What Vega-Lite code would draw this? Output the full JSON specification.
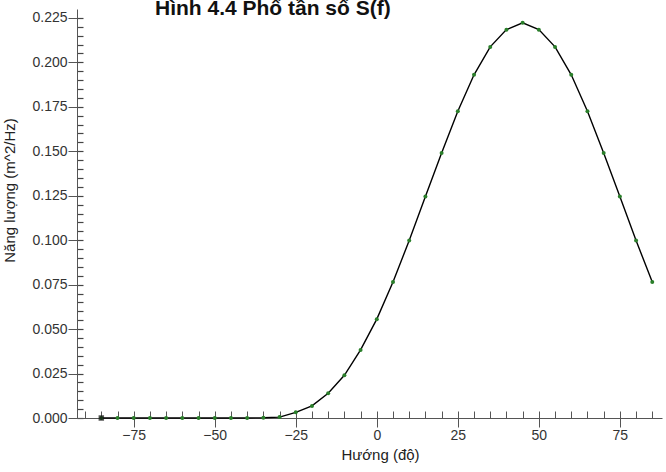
{
  "$schema": "https://vega.github.io/schema/vega-lite/v6.json",
  "autosize": {"type": "none"},
  "width": 585,
  "height": 409,
  "padding": {"left": 77, "top": 9, "right": 4, "bottom": 54},
  "background": "white",
  "config": {"view": {"stroke": null}, "font": "Liberation Sans"},
  "title": {
    "text": "Hình 4.4 Phổ tần số S(f)",
    "anchor": "start",
    "frame": "group",
    "dx": 78,
    "offset": -10,
    "fontSize": 21,
    "fontWeight": "bold",
    "font": "Liberation Sans",
    "color": "#111111"
  },
  "data": {
    "values": [
      {"huong": -85, "e": 0.0},
      {"huong": -80, "e": 0.0},
      {"huong": -75, "e": 0.0},
      {"huong": -70, "e": 0.0},
      {"huong": -65, "e": 0.0},
      {"huong": -60, "e": 0.0},
      {"huong": -55, "e": 0.0},
      {"huong": -50, "e": 0.0},
      {"huong": -45, "e": 0.0},
      {"huong": -40, "e": 0.0},
      {"huong": -35, "e": 0.0001},
      {"huong": -30, "e": 0.0005},
      {"huong": -25, "e": 0.0032},
      {"huong": -20, "e": 0.0068},
      {"huong": -15, "e": 0.0139},
      {"huong": -10, "e": 0.024},
      {"huong": -5, "e": 0.0383},
      {"huong": 0, "e": 0.0556},
      {"huong": 5, "e": 0.0765},
      {"huong": 10, "e": 0.0998},
      {"huong": 15, "e": 0.1246},
      {"huong": 20, "e": 0.149},
      {"huong": 25, "e": 0.1725},
      {"huong": 30, "e": 0.193},
      {"huong": 35, "e": 0.2087},
      {"huong": 40, "e": 0.2184},
      {"huong": 45, "e": 0.2222},
      {"huong": 50, "e": 0.2184},
      {"huong": 55, "e": 0.2087},
      {"huong": 60, "e": 0.193},
      {"huong": 65, "e": 0.1725},
      {"huong": 70, "e": 0.149},
      {"huong": 75, "e": 0.1246},
      {"huong": 80, "e": 0.0998},
      {"huong": 85, "e": 0.0765}
    ]
  },
  "layer": [
    {
      "mark": {"type": "line", "color": "#000000", "strokeWidth": 1.4},
      "encoding": {
        "x": {
          "field": "huong", "type": "quantitative",
          "scale": {"domain": [-92.5, 88], "nice": false, "zero": false},
          "axis": {
            "orient": "bottom",
            "values": [-90, -85, -80, -75, -70, -65, -60, -55, -50, -45, -40, -35, -30, -25, -20, -15, -10, -5, 0, 5, 10, 15, 20, 25, 30, 35, 40, 45, 50, 55, 60, 65, 70, 75, 80, 85],
            "tickCount": 200,
            "labelExpr": "datum.value % 25 == 0 ? datum.label : ''",
            "labelOverlap": false, "labelFlush": false,
            "title": "Hướng (độ)",
            "titleFont": "Liberation Sans", "titleFontSize": 15, "titleFontWeight": "normal",
            "titleColor": "#222222", "titlePadding": 5, "titleX": 303,
            "labelFont": "Liberation Sans", "labelFontSize": 14, "labelColor": "#333333",
            "labelPadding": 1,
            "tickSize": 9,
            "tickOpacity": {"condition": {"test": "datum.value % 25 == 0", "value": 1}, "value": 0},
            "tickColor": "#555555", "domainColor": "#555555",
            "grid": true, "gridColor": "#555555", "gridDash": [0, 402, 7, 100], "gridOpacity": 1
          }
        },
        "y": {
          "field": "e", "type": "quantitative",
          "scale": {"domain": [0, 0.23], "nice": false},
          "axis": {
            "orient": "left",
            "values": [0, 0.005, 0.01, 0.015, 0.02, 0.025, 0.03, 0.035, 0.04, 0.045, 0.05, 0.055, 0.06, 0.065, 0.07, 0.075, 0.08, 0.085, 0.09, 0.095, 0.1, 0.105, 0.11, 0.115, 0.12, 0.125, 0.13, 0.135, 0.14, 0.145, 0.15, 0.155, 0.16, 0.165, 0.17, 0.175, 0.18, 0.185, 0.19, 0.195, 0.2, 0.205, 0.21, 0.215, 0.22, 0.225],
            "tickCount": 200,
            "format": ".3f",
            "labelExpr": "round(datum.value * 1000) % 25 == 0 ? datum.label : ''",
            "labelOverlap": false, "labelFlush": false,
            "title": "Năng lượng (m^2/Hz)",
            "titleFont": "Liberation Sans", "titleFontSize": 15, "titleFontWeight": "normal",
            "titleColor": "#222222",
            "titleX": -60, "titleY": 181,
            "labelFont": "Liberation Sans", "labelFontSize": 14, "labelColor": "#333333",
            "labelPadding": 1,
            "tickSize": 9,
            "tickOpacity": {"condition": {"test": "round(datum.value * 1000) % 25 == 0", "value": 1}, "value": 0},
            "tickColor": "#555555", "domainColor": "#555555",
            "grid": true, "gridColor": "#444444", "gridWidth": 1.2, "gridDash": [6, 2000], "gridOpacity": 1
          }
        }
      }
    },
    {
      "mark": {"type": "point", "filled": true, "color": "#2a7f2a", "size": 16, "opacity": 1},
      "encoding": {
        "x": {"field": "huong", "type": "quantitative"},
        "y": {"field": "e", "type": "quantitative"}
      }
    },
    {
      "transform": [{"filter": "datum.huong == -85"}],
      "mark": {"type": "square", "filled": true, "color": "#111111", "size": 30},
      "encoding": {
        "x": {"field": "huong", "type": "quantitative"},
        "y": {"field": "e", "type": "quantitative"}
      }
    }
  ]
}
